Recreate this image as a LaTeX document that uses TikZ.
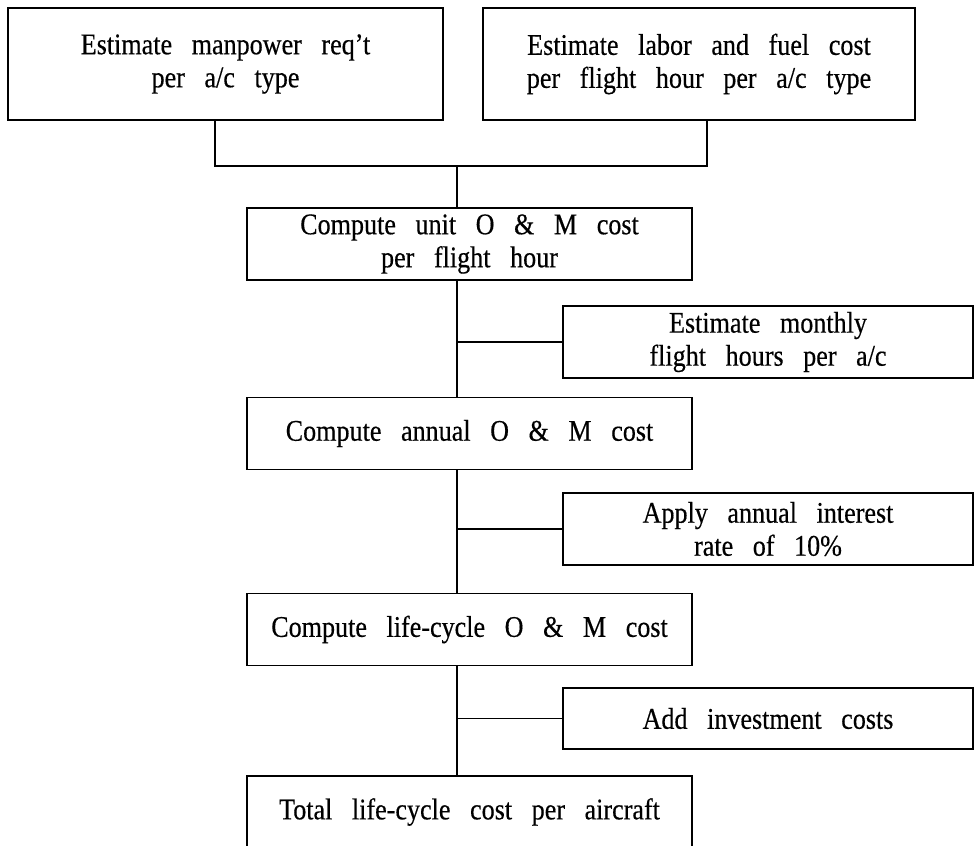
\documentclass[tikz,border=0pt]{standalone}
\usepackage{fontspec}
\setmainfont[WordSpace=3, FakeStretch=0.87, FakeBold=0.4]{Liberation Serif}
\begin{document}
\begin{tikzpicture}[x=0.5pt, y=-0.5pt,
        stepbox/.style={draw, line width=0.9pt, align=center, inner sep=0pt,
            font=\fontsize{15}{16.5}\selectfont},
        mainbox/.style={stepbox, minimum width=222.5pt, minimum height=36pt},
        sidebox/.style={stepbox, minimum width=205pt, minimum height=36pt},
        link/.style={line width=0.9pt}]

        \clip (0,0) rectangle (975,846);

        \node[stepbox, minimum width=217.5pt, minimum height=56pt] (manpower) at (225.5,64) {Estimate manpower req't\\per a/c type};
        \node[stepbox, minimum width=216pt, minimum height=56pt] (labor) at (699,64) {Estimate labor and fuel cost\\per flight hour per a/c type};

        \node[mainbox] (unit) at (469.5,244) {Compute unit O \& M cost\\per flight hour};
        \node[sidebox] (monthly) at (768,342) {Estimate monthly\\flight hours per a/c};
        \node[mainbox] (annual) at (469.5,433.5) {Compute annual O \& M cost};
        \node[sidebox] (interest) at (768,529) {Apply annual interest\\rate of 10\%};
        \node[mainbox] (lifecycle) at (469.5,629.5) {Compute life-cycle O \& M cost};
        \node[sidebox, minimum height=30.5pt] (invest) at (768,718.5) {Add investment costs};
        \node[mainbox] (total) at (469.5,812) {Total life-cycle cost per aircraft};

        \coordinate (jl) at (215,166);
        \coordinate (jr) at (707,166);
        \coordinate (spine) at (457,166);

        \draw[link] (manpower.south -| jl) -- (jl) -- (jr) -- (labor.south -| jr);
        \draw[link] (spine) -- (unit.north -| spine);

        \draw[link] (unit.south -| spine) -- (annual.north -| spine);
        \draw[link] (monthly.west) -- (monthly.west -| spine);
        \draw[link] (annual.south -| spine) -- (lifecycle.north -| spine);
        \draw[link] (interest.west) -- (interest.west -| spine);
        \draw[link] (lifecycle.south -| spine) -- (total.north -| spine);
        \draw[link] (invest.west) -- (invest.west -| spine);

    \end{tikzpicture}
\end{document}
